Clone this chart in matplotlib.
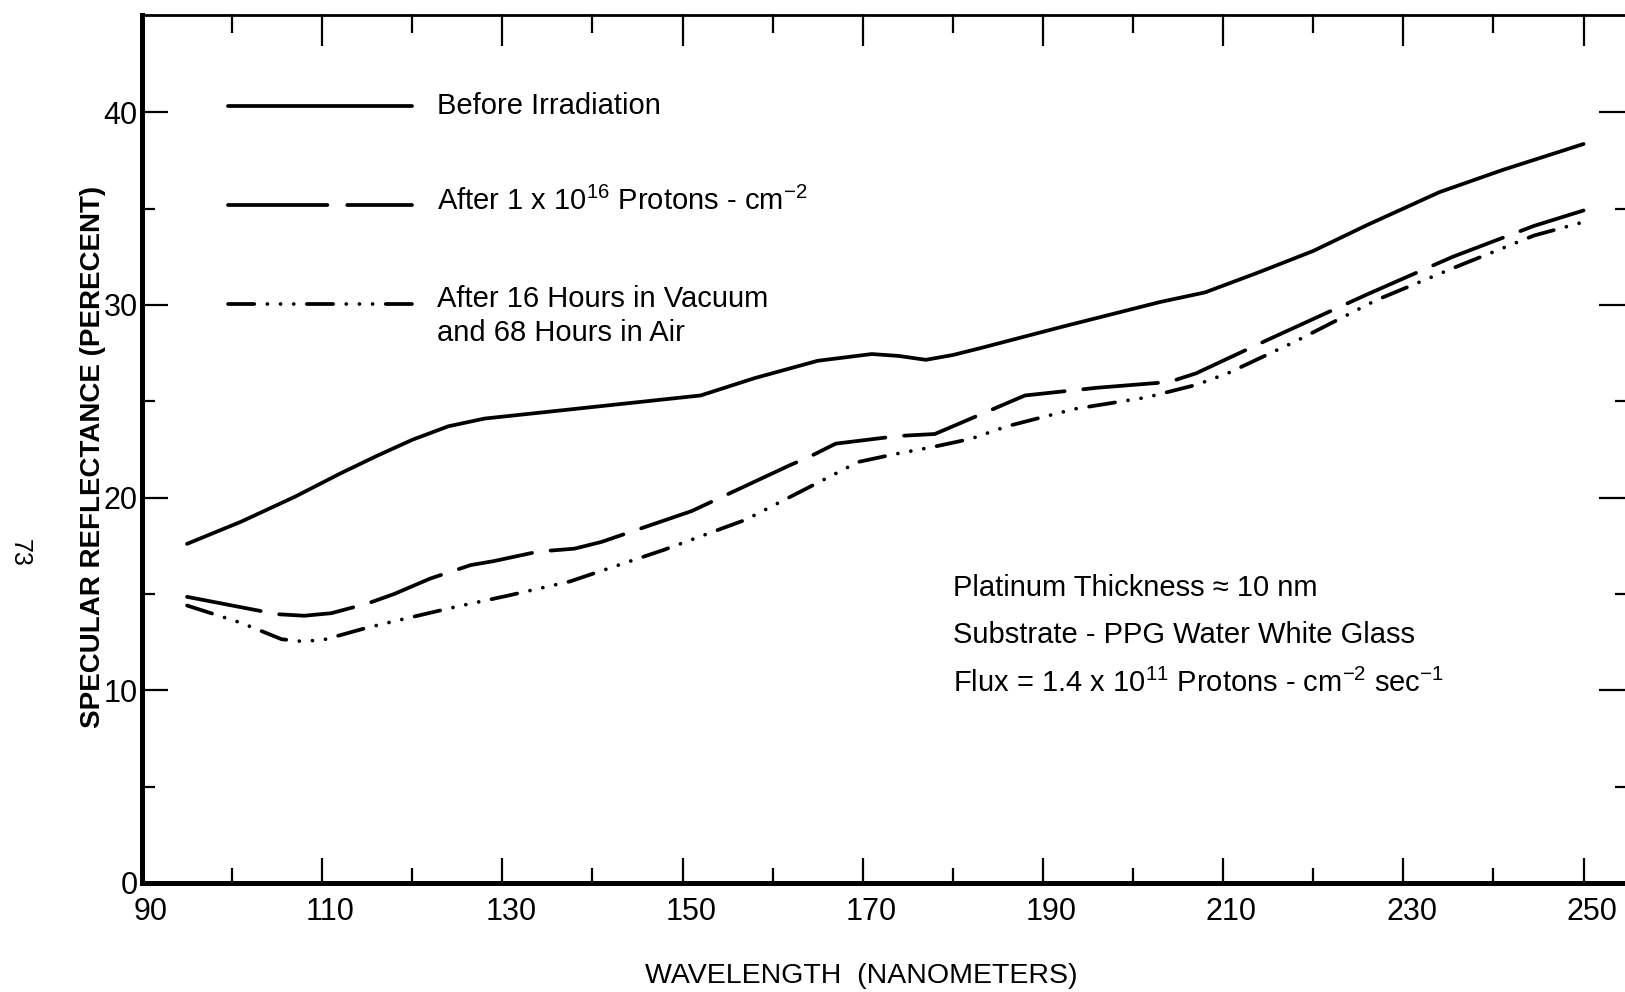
import matplotlib
matplotlib.use("Agg")
import matplotlib.pyplot as plt
import matplotlib.transforms as mtransforms
from matplotlib import font_manager

# 字体: 窄体无衬线, 尽量接近原图
names = {f.name for f in font_manager.fontManager.ttflist}
fam = [n for n in ["Liberation Sans Narrow", "Liberation Sans", "DejaVu Sans"] if n in names]
plt.rcParams["font.family"] = fam
plt.rcParams["mathtext.fontset"] = "custom"
plt.rcParams["mathtext.rm"] = fam[0]
plt.rcParams["mathtext.it"] = fam[0]
plt.rcParams["mathtext.bf"] = fam[0] + ":bold"

# 数据
wl_before = [95, 101, 107, 112, 116, 120, 124, 128, 132, 136, 144, 152, 158, 165, 171, 174,
             177, 180, 183, 192, 203, 208, 214, 220, 226, 234, 241, 250]
r_before = [17.6, 18.75, 20.05, 21.25, 22.15, 23.0, 23.7, 24.1, 24.3, 24.5, 24.9, 25.3,
            26.2, 27.1, 27.45, 27.35, 27.15, 27.4, 27.75, 28.85, 30.15, 30.65, 31.7, 32.8,
            34.15, 35.85, 37.0, 38.35]

wl_after = [95, 100, 105, 108, 111, 115, 118, 122, 126.5, 129, 134, 138, 141, 151, 162,
            164, 167, 174, 178, 183, 188, 196, 204, 207, 215, 226, 235.5, 244.5, 250]
r_after = [14.85, 14.4, 13.95, 13.87, 14.0, 14.5, 15.0, 15.8, 16.5, 16.7, 17.2, 17.35,
           17.7, 19.3, 21.7, 22.1, 22.8, 23.2, 23.3, 24.3, 25.3, 25.7, 26.0, 26.45, 28.2,
           30.55, 32.5, 34.1, 34.9]

wl_air = [95, 101, 105.5, 107.5, 110, 115, 119.5, 125, 130.5, 137.5, 148, 157, 164.5,
          169.5, 173.5, 178, 182, 186, 193.5, 201.5, 207, 210.5, 218, 227, 236, 244.5, 250]
r_air = [14.4, 13.5, 12.65, 12.55, 12.6, 13.25, 13.75, 14.35, 14.9, 15.65, 17.3, 18.85,
         20.65, 21.85, 22.25, 22.65, 23.05, 23.7, 24.6, 25.2, 25.85, 26.45, 28.1, 30.25,
         32.0, 33.6, 34.3]

x_ticks = [90, 110, 130, 150, 170, 190, 210, 230, 250]
x_minor = [100, 120, 140, 160, 180, 200, 220, 240]
y_ticks = [0, 10, 20, 30, 40]
y_minor = [5, 15, 25, 35]

W, H = 1625, 992
fig = plt.figure(figsize=(W / 100, H / 100), dpi=100)
ax = fig.add_axes([142 / W, 1 - 883 / H, (W - 142) / W, (883 - 14.5) / H])
ax.set_xlim(90, 254.6)
ax.set_ylim(0, 45.07)

lw = 2.7
dash_long = (20, 5)
dash_dot3 = (7, 3.5, 0.01, 3.5, 0.01, 3.5, 0.01, 3.5)
kw = dict(color="black", lw=lw, dash_capstyle="round", solid_capstyle="round")
ax.plot(wl_before, r_before, "-", **kw)
ax.plot(wl_after, r_after, dashes=dash_long, **kw)
ax.plot(wl_air, r_air, dashes=dash_dot3, **kw)

# 坐标轴样式
ax.spines["left"].set_linewidth(3.6)
ax.spines["bottom"].set_linewidth(3.6)
ax.spines["top"].set_linewidth(2.0)
ax.spines["right"].set_visible(False)

ax.set_xticks(x_ticks)
ax.set_xticks(x_minor, minor=True)
ax.set_yticks(y_ticks)
ax.set_yticks(y_minor, minor=True)
ax.tick_params(axis="x", which="major", direction="in", length=18, width=1.6,
               labelsize=22, pad=10)
ax.tick_params(axis="x", which="minor", direction="in", length=11, width=1.6)
ax.tick_params(axis="y", which="major", direction="in", length=19, width=1.6,
               labelsize=22, pad=3)
ax.tick_params(axis="y", which="minor", direction="in", length=9, width=1.6)
# x 刻度标签在原图中略偏右
shift = mtransforms.ScaledTranslation(6 / 72, 0, fig.dpi_scale_trans)
for lab in ax.get_xticklabels():
    lab.set_transform(lab.get_transform() + shift)

top = ax.secondary_xaxis("top")
top.set_xticks(x_ticks[1:])
top.set_xticks(x_minor, minor=True)
top.tick_params(which="major", direction="in", length=23, width=1.6, labeltop=False)
top.tick_params(which="minor", direction="in", length=14, width=1.6)
top.spines["top"].set_visible(False)

right = ax.secondary_yaxis("right")
right.set_yticks(y_ticks[1:])
right.set_yticks(y_minor, minor=True)
right.tick_params(which="major", direction="in", length=19, width=1.6, labelright=False)
right.tick_params(which="minor", direction="in", length=7, width=1.6)
right.spines["right"].set_visible(False)

ax.set_xlabel("WAVELENGTH  (NANOMETERS)", fontsize=20.5, va="center")
ax.xaxis.set_label_coords(0.485, -0.107)
ax.set_ylabel("SPECULAR REFLECTANCE (PERECENT)", fontsize=20, fontweight="bold")
ax.yaxis.set_label_coords(-0.024, 0.49)

# 图例 (手工)
leg_x = [0.058, 0.1824]
ax.plot(leg_x, [0.895, 0.895], transform=ax.transAxes, **kw)
ax.plot(leg_x, [0.781, 0.781], transform=ax.transAxes, dashes=(26.5, 5.3), **kw)
ax.plot(leg_x, [0.667, 0.667], transform=ax.transAxes, dashes=dash_dot3, **kw)
tx = 0.199
fs = 21
ax.text(tx, 0.8855, "Before Irradiation", transform=ax.transAxes, fontsize=fs, va="baseline")
ax.text(tx, 0.7745, r"After 1 x 10$^{16}$ Protons - cm$^{-2}$", transform=ax.transAxes,
        fontsize=fs, va="baseline")
ax.text(tx, 0.6635, "After 16 Hours in Vacuum", transform=ax.transAxes, fontsize=fs,
        va="baseline")
ax.text(tx, 0.624, "and 68 Hours in Air", transform=ax.transAxes, fontsize=fs, va="baseline")

# 注释
nx = 0.547
ax.text(nx, 0.3305, "Platinum Thickness \u2248 10 nm", transform=ax.transAxes, fontsize=fs,
        va="baseline")
ax.text(nx, 0.2768, "Substrate - PPG Water White Glass", transform=ax.transAxes,
        fontsize=fs, va="baseline")
ax.text(nx, 0.220, r"Flux = 1.4 x 10$^{11}$ Protons - cm$^{-2}$ sec$^{-1}$",
        transform=ax.transAxes, fontsize=fs, va="baseline")

fig.text(0.0123, 0.4425, "73", rotation=-90, fontsize=18, ha="center", va="center")

fig.savefig("out.png", dpi=100)
